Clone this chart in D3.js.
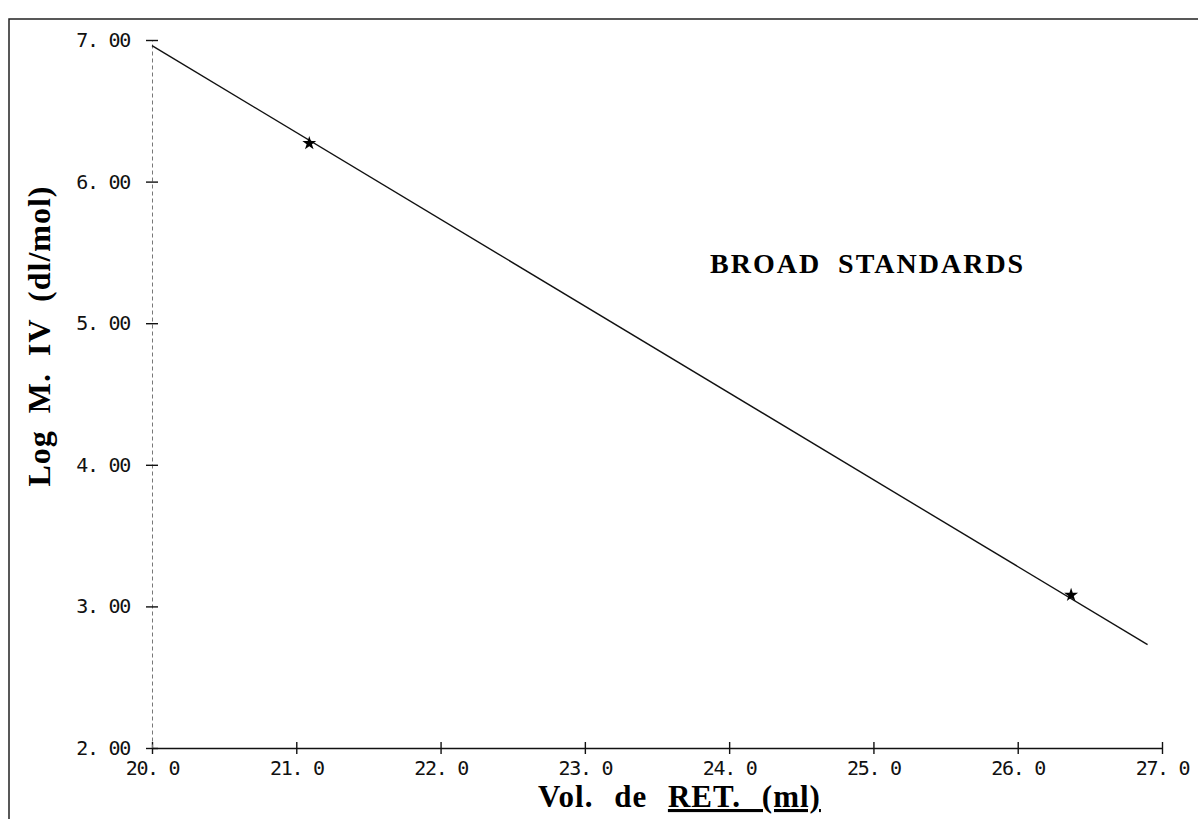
<!DOCTYPE html>
<html>
<head>
<meta charset="utf-8">
<script src="https://cdn.jsdelivr.net/npm/d3@7"></script>
<style>
  body { margin: 0; background: #fff; }
  svg { display: block; }
  .tick text { font-family: "DejaVu Sans Mono", monospace; font-size: 20px; letter-spacing: -1.3px; fill: #111; }
  .title { font-family: "Liberation Serif", "Times New Roman", serif; font-weight: bold; fill: #000; }
</style>
</head>
<body>
<svg id="chart" width="1198" height="819"></svg>
<script>
// calibration line (retention volume vs log M.IV)
const lineVol = [20.0, 26.9];
const lineLogM = [6.96, 2.73];

// measured standards
const pointVol = [21.09, 26.37];
const pointLogM = [6.27, 3.08];

const xTicks = [20, 21, 22, 23, 24, 25, 26, 27];
const xTickLabels = ["20. 0", "21. 0", "22. 0", "23. 0", "24. 0", "25. 0", "26. 0", "27. 0"];
const yTicks = [2, 3, 4, 5, 6, 7];
const yTickLabels = ["2. 00", "3. 00", "4. 00", "5. 00", "6. 00", "7. 00"];

const svg = d3.select("#chart");

const x = d3.scaleLinear().domain([20, 27]).range([152, 1162]);
const y = d3.scaleLinear().domain([2, 7]).range([748, 40]);

// frame (top and left edges of the sheet)
svg.append("path")
  .attr("d", "M9,819V19H1198")
  .attr("fill", "none")
  .attr("stroke", "#222")
  .attr("stroke-width", 1.5);

// x axis
const xAxis = d3.axisBottom(x)
  .tickValues(xTicks)
  .tickSizeOuter(0)
  .tickFormat((d, i) => xTickLabels[i]);
const gx = svg.append("g")
  .attr("transform", `translate(0,${y(2)})`)
  .call(xAxis);
gx.select(".domain").attr("stroke", "#111").attr("stroke-width", 1.6);
gx.selectAll(".tick line").attr("y1", -6).attr("y2", 6).attr("stroke", "#111").attr("stroke-width", 1.4);
gx.selectAll(".tick text").attr("y", 13).attr("dy", "0.71em");

// y axis
const yAxis = d3.axisLeft(y)
  .tickValues(yTicks)
  .tickSizeOuter(0)
  .tickFormat((d, i) => yTickLabels[i]);
const gy = svg.append("g")
  .attr("transform", `translate(${x(20)},0)`)
  .call(yAxis);
gy.select(".domain").attr("stroke", "#777").attr("stroke-width", 1).attr("stroke-dasharray", "4,3");
gy.selectAll(".tick line").attr("x1", -6).attr("x2", 6).attr("stroke", "#111").attr("stroke-width", 1.4);
gy.selectAll(".tick text").attr("x", -22);

// calibration line
const lineData = lineVol.map((v, i) => [v, lineLogM[i]]);
svg.append("path")
  .datum(lineData)
  .attr("fill", "none")
  .attr("stroke", "#111")
  .attr("stroke-width", 1.4)
  .attr("d", d3.line().x(d => x(d[0])).y(d => y(d[1])));

// standards
const pts = pointVol.map((v, i) => [v, pointLogM[i]]);
svg.selectAll(".pt")
  .data(pts)
  .join("path")
  .attr("class", "pt")
  .attr("transform", d => `translate(${x(d[0])},${y(d[1])})`)
  .attr("d", d3.symbol().type(d3.symbolStar).size(60))
  .attr("fill", "#000");

// annotation
svg.append("text")
  .attr("class", "title")
  .attr("x", 710)
  .attr("y", 273)
  .attr("font-size", 28)
  .attr("letter-spacing", 2)
  .attr("word-spacing", 8)
  .text("BROAD STANDARDS");

// x title
const xt = svg.append("text")
  .attr("class", "title")
  .attr("x", 538)
  .attr("y", 807)
  .attr("font-size", 31)
  .attr("letter-spacing", 1)
  .attr("word-spacing", 12);
xt.append("tspan").text("Vol. de ");
xt.append("tspan").attr("text-decoration", "underline").text("RET. (ml)");

// y title
svg.append("text")
  .attr("class", "title")
  .attr("transform", "translate(50,336) rotate(-90)")
  .attr("text-anchor", "middle")
  .attr("font-size", 32)
  .attr("letter-spacing", 1)
  .attr("word-spacing", 8)
  .text("Log M. IV (dl/mol)");
</script>
</body>
</html>
